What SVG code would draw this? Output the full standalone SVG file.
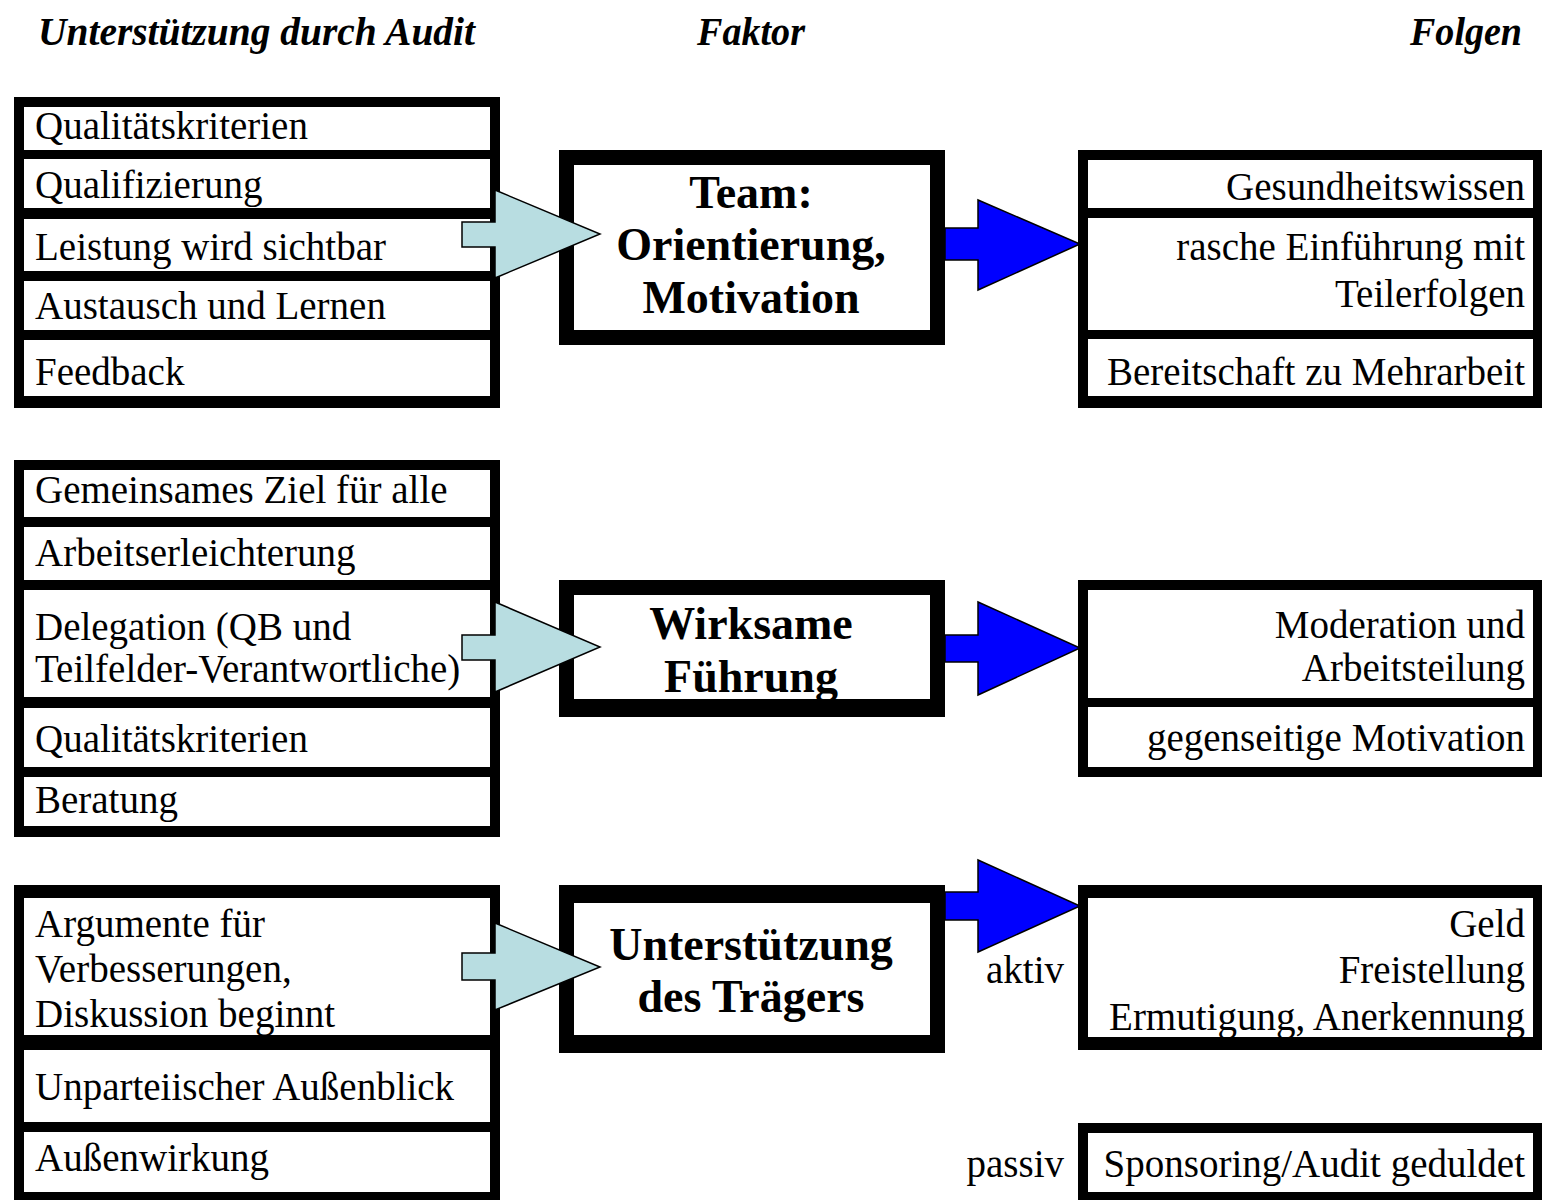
<svg xmlns="http://www.w3.org/2000/svg" width="1542" height="1200" viewBox="0 0 1542 1200">
<style>
.frame{fill:#000}
.cell{fill:#fff}
.t{font-family:"Liberation Serif","Times New Roman",serif;font-size:39px;fill:#000}
.r{text-anchor:end}
.c{font-family:"Liberation Serif","Times New Roman",serif;font-size:46px;font-weight:bold;text-anchor:middle;fill:#000}
.h{font-family:"Liberation Serif","Times New Roman",serif;font-size:39px;font-weight:bold;font-style:italic;fill:#000}
.in{fill:#b8dde1;stroke:#000;stroke-width:1.5}
.out{fill:#0000ff;stroke:#000;stroke-width:1.5}
</style>
<rect width="1542" height="1200" fill="#fff"/>
<g id="headers">
<text class="h" x="38" y="45" textLength="437" lengthAdjust="spacingAndGlyphs">Unterstützung durch Audit</text>
<text class="h" x="697" y="45" textLength="108" lengthAdjust="spacingAndGlyphs">Faktor</text>
<text class="h" x="1410" y="45" textLength="112" lengthAdjust="spacingAndGlyphs">Folgen</text>
</g>
<g id="audit1">
<rect class="frame" x="14" y="97" width="486" height="311"/>
<rect class="cell" x="24" y="107" width="466" height="43"/>
<rect class="cell" x="24" y="159" width="466" height="49"/>
<rect class="cell" x="24" y="219" width="466" height="52"/>
<rect class="cell" x="24" y="281" width="466" height="49"/>
<rect class="cell" x="24" y="340" width="466" height="56"/>
<text class="t" x="35" y="139">Qualitätskriterien</text>
<text class="t" x="35" y="198">Qualifizierung</text>
<text class="t" x="35" y="260">Leistung wird sichtbar</text>
<text class="t" x="35" y="319">Austausch und Lernen</text>
<text class="t" x="35" y="385">Feedback</text>
</g>
<g id="factor1">
<rect class="frame" x="559" y="150" width="386" height="195"/>
<rect class="cell" x="574" y="165" width="356" height="165"/>
<text class="c" x="751" y="208">Team:</text>
<text class="c" x="751" y="260">Orientierung,</text>
<text class="c" x="751" y="313">Motivation</text>
</g>
<g id="result1">
<rect class="frame" x="1078" y="150" width="464" height="258"/>
<rect class="cell" x="1088" y="160" width="445" height="48"/>
<rect class="cell" x="1088" y="218" width="445" height="112"/>
<rect class="cell" x="1088" y="339" width="445" height="57"/>
<text class="t r" x="1525" y="200">Gesundheitswissen</text>
<text class="t r" x="1525" y="260">rasche Einführung mit</text>
<text class="t r" x="1525" y="307">Teilerfolgen</text>
<text class="t r" x="1525" y="385">Bereitschaft zu Mehrarbeit</text>
</g>
<g id="audit2">
<rect class="frame" x="14" y="460" width="486" height="377"/>
<rect class="cell" x="24" y="470" width="466" height="47"/>
<rect class="cell" x="24" y="527" width="466" height="53"/>
<rect class="cell" x="24" y="590" width="466" height="107"/>
<rect class="cell" x="24" y="708" width="466" height="59"/>
<rect class="cell" x="24" y="777" width="466" height="49"/>
<text class="t" x="35" y="503">Gemeinsames Ziel für alle</text>
<text class="t" x="35" y="566">Arbeitserleichterung</text>
<text class="t" x="35" y="640">Delegation (QB und</text>
<text class="t" x="35" y="682">Teilfelder-Verantwortliche)</text>
<text class="t" x="35" y="752">Qualitätskriterien</text>
<text class="t" x="35" y="813">Beratung</text>
</g>
<g id="factor2">
<rect class="frame" x="559" y="580" width="386" height="137"/>
<rect class="cell" x="574" y="595" width="356" height="104"/>
<text class="c" x="751" y="639">Wirksame</text>
<text class="c" x="751" y="692">Führung</text>
</g>
<g id="result2">
<rect class="frame" x="1078" y="580" width="464" height="197"/>
<rect class="cell" x="1088" y="590" width="445" height="108"/>
<rect class="cell" x="1088" y="707" width="445" height="60"/>
<text class="t r" x="1525" y="638">Moderation und</text>
<text class="t r" x="1525" y="681">Arbeitsteilung</text>
<text class="t r" x="1525" y="751">gegenseitige Motivation</text>
</g>
<g id="audit3">
<rect class="frame" x="14" y="885" width="486" height="315"/>
<rect class="cell" x="24" y="898" width="466" height="137"/>
<rect class="cell" x="24" y="1050" width="466" height="72"/>
<rect class="cell" x="24" y="1132" width="466" height="60"/>
<text class="t" x="35" y="937">Argumente für</text>
<text class="t" x="35" y="982">Verbesserungen,</text>
<text class="t" x="35" y="1027">Diskussion beginnt</text>
<text class="t" x="35" y="1100">Unparteiischer Außenblick</text>
<text class="t" x="35" y="1171">Außenwirkung</text>
</g>
<g id="factor3">
<rect class="frame" x="559" y="885" width="386" height="168"/>
<rect class="cell" x="574" y="903" width="356" height="132"/>
<text class="c" x="751" y="960">Unterstützung</text>
<text class="c" x="751" y="1012">des Trägers</text>
</g>
<g id="result3a">
<rect class="frame" x="1078" y="885" width="464" height="165"/>
<rect class="cell" x="1088" y="898" width="445" height="139"/>
<text class="t r" x="1525" y="937">Geld</text>
<text class="t r" x="1525" y="983">Freistellung</text>
<text class="t r" x="1525" y="1030">Ermutigung, Anerkennung</text>
</g>
<g id="result3b">
<rect class="frame" x="1078" y="1123" width="464" height="77"/>
<rect class="cell" x="1088" y="1133" width="445" height="59"/>
<text class="t r" x="1525" y="1177">Sponsoring/Audit geduldet</text>
</g>
<g id="labels">
<text class="t r" x="1064" y="983">aktiv</text>
<text class="t r" x="1064" y="1177">passiv</text>
</g>
<g id="connectors">
<path class="in" d="M462,222 H495 V190 L600,234 L495,278 V247 H462 Z"/>
<path class="in" d="M462,635 H495 V602 L600,647 L495,692 V660 H462 Z"/>
<path class="in" d="M462,953 H495 V923 L600,967 L495,1010 V980 H462 Z"/>
<path class="out" d="M945,228 H978 V200 L1080,244 L978,290 V260 H945 Z"/>
<path class="out" d="M945,635 H978 V602 L1080,648 L978,695 V662 H945 Z"/>
<path class="out" d="M945,892 H978 V860 L1080,906 L978,952 V920 H945 Z"/>
</g>
</svg>
